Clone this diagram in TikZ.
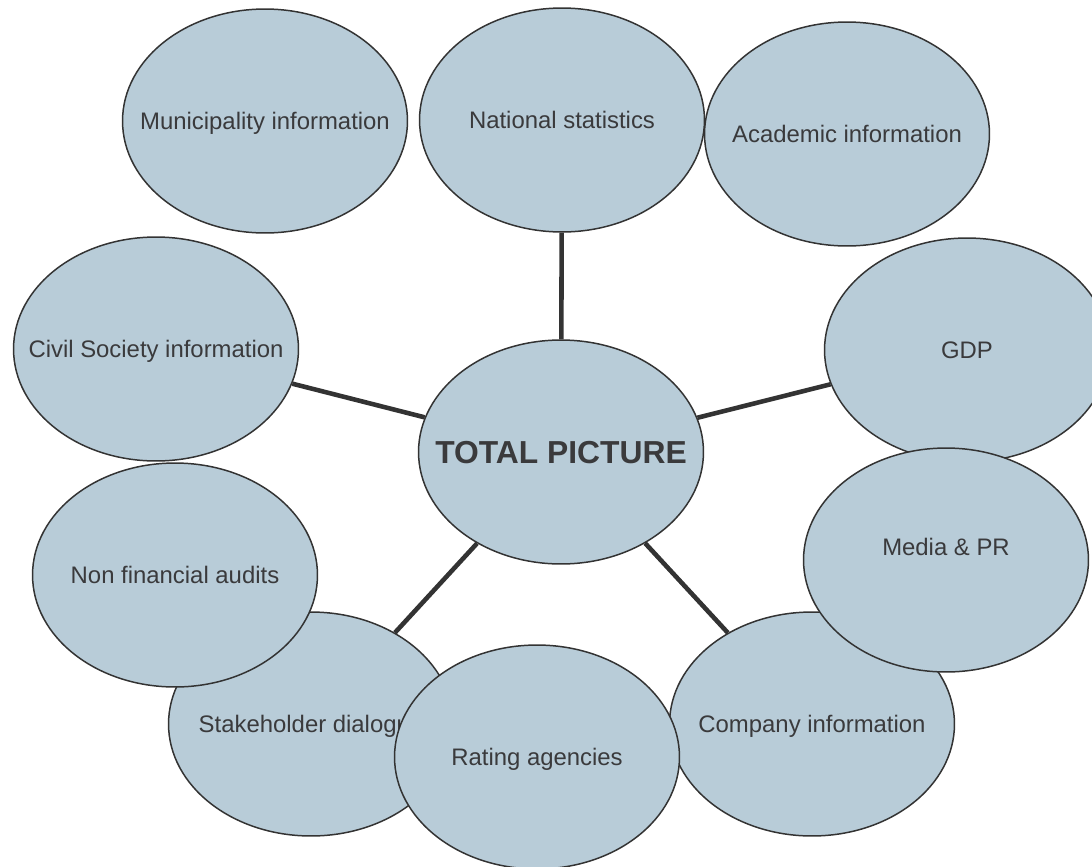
\documentclass[tikz,border=0pt]{standalone}
\usepackage{fontspec}
\setmainfont{Liberation Sans}
\usetikzlibrary{shapes.geometric}
\definecolor{bubblefill}{HTML}{B8CCD8}
\definecolor{edgegrey}{HTML}{333333}
\definecolor{textgrey}{HTML}{3A3A3C}
\tikzset{
  bubble/.style={ellipse, draw=edgegrey, line width=.85pt, fill=bubblefill,
    minimum width=5.7cm, minimum height=4.48cm, inner sep=0pt, text depth=0pt,
    text=textgrey, font=\fontsize{13.6}{16}\selectfont},
  spoke/.style={draw=edgegrey, line width=2.6pt}
}
\begin{document}
\begin{tikzpicture}[x=.02cm, y=-.02cm]
  \useasboundingbox (0,0) rectangle (1092,866);
  \node[bubble] (muni)  at (265,121) {\makebox[0pt]{Municipality information}};
  \node[bubble] (natl)  at (562,120) {\makebox[0pt]{National statistics}};
  \node[bubble] (acad)  at (847,134) {\makebox[0pt]{Academic information}};
  \node[bubble] (civil) at (156,349) {\makebox[0pt]{Civil Society information}};
  \node[bubble] (gdp)   at (967,350) {\makebox[0pt]{GDP}};
  \node[bubble] (stake) at (311,724) {\makebox[0pt]{Stakeholder dialogue}};
  \node[bubble] (audit) at (175,575) {\makebox[0pt]{Non financial audits}};
  \node[bubble] (comp)  at (812,724) {\makebox[0pt]{Company information}};
  \node[bubble, text depth=.52cm] (media) at (946,560) {\makebox[0pt]{Media \& PR}};
  \node[bubble] (rate)  at (537,757) {\makebox[0pt]{Rating agencies}};
  \node[bubble, font=\fontsize{18.1}{21}\selectfont\bfseries] (total) at (561,452)
    {\makebox[0pt]{TOTAL PICTURE}};
  % spokes from the centre
  \foreach \n in {natl, civil, gdp, stake, comp}
    \draw[spoke] (total) -- (\n);
\end{tikzpicture}
\end{document}
